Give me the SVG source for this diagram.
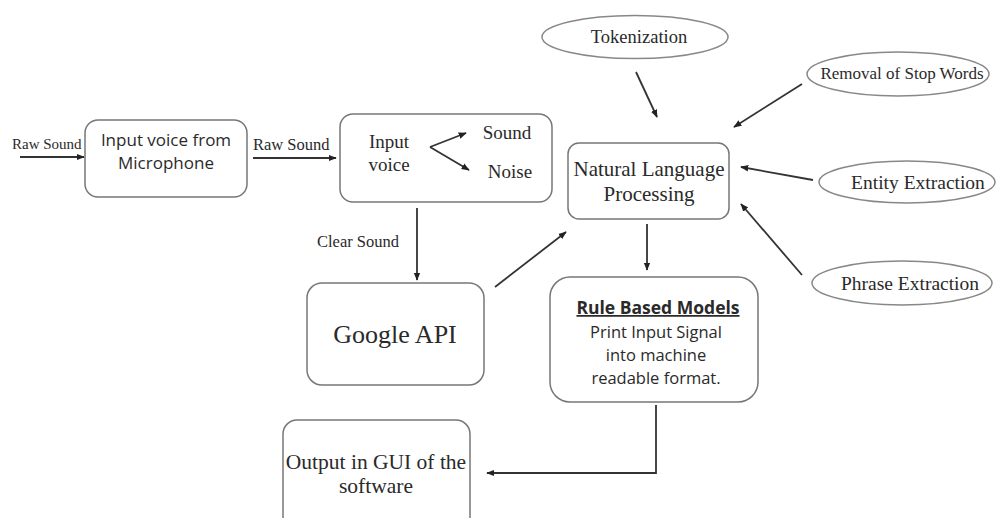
<svg xmlns="http://www.w3.org/2000/svg" width="996" height="518" viewBox="0 0 996 518">
<defs>
<marker id="ah" viewBox="0 0 10 10" refX="9" refY="5" markerWidth="4.5" markerHeight="4.5" orient="auto">
<path d="M0,1 L10,5 L0,9 z" fill="#222"/>
</marker>
<style>
.box{fill:#fff;stroke:#777;stroke-width:1.5}
.ell{fill:#fff;stroke:#888;stroke-width:1.5}
.ln{stroke:#333;stroke-width:1.8;fill:none}
.ar{stroke:#333;stroke-width:1.8;fill:none;marker-end:url(#ah)}
.serif{font-family:"Liberation Serif","DejaVu Serif",serif;fill:#2a2a2a}
.sans{font-family:"Open Sans","Liberation Sans",sans-serif;fill:#2a2a2a}
</style>
</defs>
<rect width="996" height="518" fill="#fff"/>
<g id="connectors">
<path class="ar" d="M20,157 L84,157"/>
<path class="ar" d="M253,158 L336,158"/>
<path class="ar" d="M417,208 L417,280"/>
<path class="ar" d="M495,287 L566,232"/>
<path class="ar" d="M636,72 L657,117"/>
<path class="ar" d="M802,84 L734,127"/>
<path class="ar" d="M813,180 L741,167"/>
<path class="ar" d="M802,275 L741,204"/>
<path class="ar" d="M647,224 L647,270"/>
<path class="ar" d="M656,405 L656,473 L487,473"/>
</g>
<g id="lbl-raw1"><text class="serif" x="12" y="149" font-size="15">Raw Sound</text></g>
<g id="mic">
<rect class="box" x="85" y="120" width="162" height="77" rx="13"/>
<text class="sans" x="166" y="146" font-size="17" text-anchor="middle">Input voice from</text>
<text class="sans" x="166" y="169" font-size="17" text-anchor="middle">Microphone</text>
</g>
<g id="lbl-raw2"><text class="serif" x="253" y="150" font-size="16.5">Raw Sound</text></g>
<g id="input-voice">
<rect class="box" x="340" y="114" width="212" height="88" rx="13"/>
<text class="serif" x="389" y="148" font-size="19" text-anchor="middle">Input</text>
<text class="serif" x="389" y="171" font-size="19" text-anchor="middle">voice</text>
<path class="ar" d="M430,147 L466,133"/>
<path class="ar" d="M430,147 L469,170"/>
<text class="serif" x="507" y="139" font-size="19" text-anchor="middle">Sound</text>
<text class="serif" x="510" y="178" font-size="19" text-anchor="middle">Noise</text>
</g>
<g id="lbl-clear"><text class="serif" x="317" y="247" font-size="16.5">Clear Sound</text></g>
<g id="google">
<rect class="box" x="307" y="283" width="177" height="102" rx="15"/>
<text class="serif" x="395" y="343" font-size="26" text-anchor="middle">Google API</text>
</g>
<g id="nlp">
<rect class="box" x="568" y="143" width="161" height="76" rx="11"/>
<text class="serif" x="649" y="176" font-size="21" text-anchor="middle">Natural Language</text>
<text class="serif" x="649" y="201" font-size="21" text-anchor="middle">Processing</text>
</g>
<g id="tokenization">
<ellipse class="ell" cx="635" cy="37" rx="93" ry="21.5"/>
<text class="serif" x="639" y="43" font-size="18.5" text-anchor="middle">Tokenization</text>
</g>
<g id="stopwords">
<ellipse class="ell" cx="898" cy="74" rx="91" ry="22"/>
<text class="serif" x="902" y="79" font-size="17" text-anchor="middle">Removal of Stop Words</text>
</g>
<g id="entity">
<ellipse class="ell" cx="907" cy="182" rx="88" ry="21"/>
<text class="serif" x="918" y="189" font-size="19.5" text-anchor="middle">Entity Extraction</text>
</g>
<g id="phrase">
<ellipse class="ell" cx="902" cy="283" rx="90" ry="22"/>
<text class="serif" x="910" y="290" font-size="19.5" text-anchor="middle">Phrase Extraction</text>
</g>
<g id="rules">
<rect class="box" x="550" y="277" width="208" height="125" rx="20"/>
<text class="sans" x="658" y="314" font-size="17.5" font-weight="bold" text-anchor="middle" text-decoration="underline">Rule Based Models</text>
<text class="sans" x="656" y="338" font-size="16.5" text-anchor="middle">Print Input Signal</text>
<text class="sans" x="656" y="361" font-size="16.5" text-anchor="middle">into machine</text>
<text class="sans" x="656" y="384" font-size="16.5" text-anchor="middle">readable format.</text>
</g>
<g id="output">
<rect class="box" x="283" y="420" width="187" height="112" rx="14"/>
<text class="serif" x="376" y="469" font-size="21.5" text-anchor="middle">Output in GUI of the</text>
<text class="serif" x="376" y="493" font-size="21.5" text-anchor="middle">software</text>
</g>
</svg>
